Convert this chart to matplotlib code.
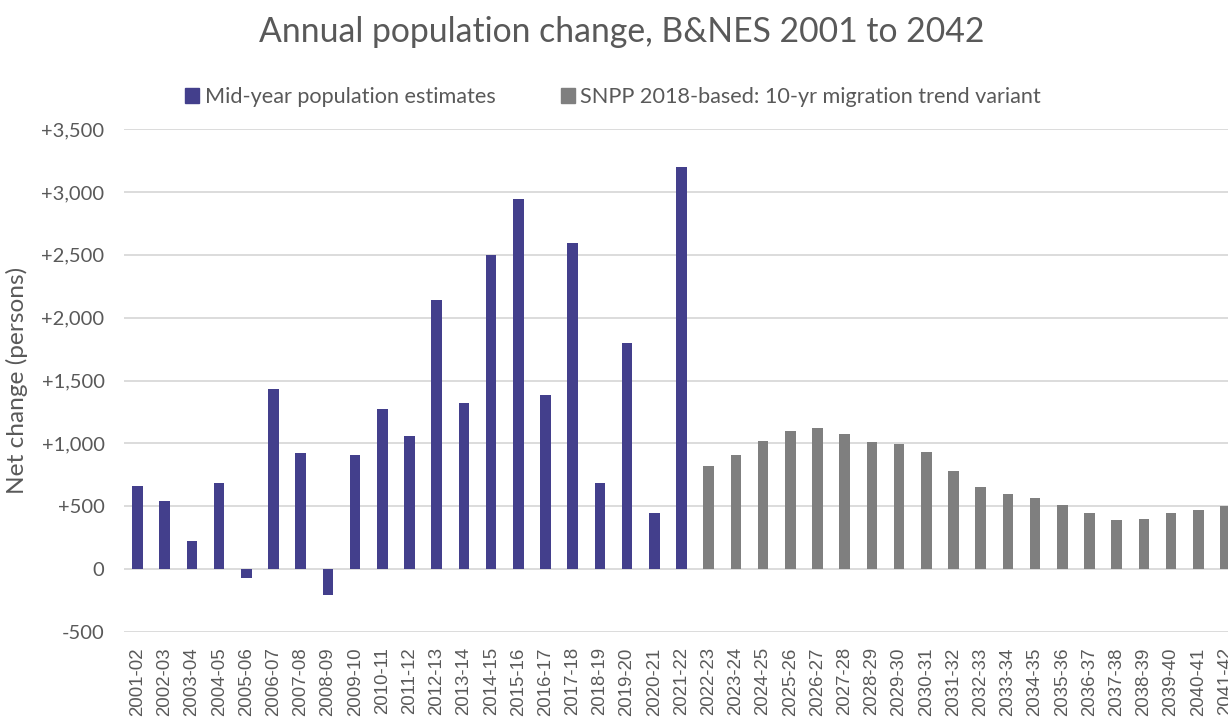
import matplotlib
matplotlib.use("Agg")
import matplotlib.pyplot as plt
from matplotlib.patches import Patch
from matplotlib.ticker import FuncFormatter, MultipleLocator

periods = [
    "2001-02", "2002-03", "2003-04", "2004-05", "2005-06", "2006-07", "2007-08",
    "2008-09", "2009-10", "2010-11", "2011-12", "2012-13", "2013-14", "2014-15",
    "2015-16", "2016-17", "2017-18", "2018-19", "2019-20", "2020-21", "2021-22",
    "2022-23", "2023-24", "2024-25", "2025-26", "2026-27", "2027-28", "2028-29",
    "2029-30", "2030-31", "2031-32", "2032-33", "2033-34", "2034-35", "2035-36",
    "2036-37", "2037-38", "2038-39", "2039-40", "2040-41", "2041-42",
]

# mid-year estimates, 2001-02 .. 2021-22
mye_change = [
    660, 540, 220, 687, -70, 1431, 926, -204, 905, 1270, 1058,
    2143, 1321, 2497, 2946, 1383, 2594, 685, 1796, 443, 3201,
]

# SNPP 2018-based 10-yr migration trend, 2022-23 .. 2041-42
snpp_change = [
    817, 905, 1016, 1101, 1122, 1071, 1013, 995, 931, 780,
    651, 598, 569, 508, 450, 389, 402, 444, 471, 505,
]

PURPLE = "#433F8C"
GREY = "#7F7F7F"
TEXT = "#595959"
GRID = "#D9D9D9"
FONT = "Lato"

fig = plt.figure(figsize=(12.28, 7.18), dpi=100)
ax = fig.add_axes([124 / 1228, 1 - 632 / 718, 1115 / 1228, 503 / 718])

n_mye = len(mye_change)
x_mye = list(range(n_mye))
x_snpp = list(range(n_mye, n_mye + len(snpp_change)))

ax.bar(x_mye, mye_change, width=0.39, color=PURPLE, zorder=3)
ax.bar(x_snpp, snpp_change, width=0.39, color=GREY, zorder=3)

ax.set_xlim(-0.5, len(periods) - 0.5)
ax.set_ylim(-500, 3500)
ax.yaxis.set_major_locator(MultipleLocator(500))


def fmt(v, _pos):
    v = int(round(v))
    if v > 0:
        return "+{:,}".format(v)
    if v < 0:
        return "-{:,}".format(-v)
    return "0"


ax.yaxis.set_major_formatter(FuncFormatter(fmt))
ax.grid(axis="y", color=GRID, linewidth=1.3, zorder=0)
for s in ax.spines.values():
    s.set_visible(False)

ax.set_xticks(range(len(periods)))
ax.set_xticklabels(periods, rotation=90, fontsize=13.4, family="Liberation Sans",
                   color=TEXT, va="top")
ax.tick_params(axis="x", length=0, pad=11)
ax.tick_params(axis="y", length=0, pad=14, labelsize=14.5, labelcolor=TEXT)
for lbl in ax.get_yticklabels():
    lbl.set_family(FONT)

ax.set_ylabel("Net change (persons)", fontsize=17.6, color=TEXT, family=FONT)
ax.yaxis.set_label_coords(-0.086, 0.5)

fig.text(622 / 1228, 1 - 32 / 718, "Annual population change, B&NES 2001 to 2042",
         ha="center", va="center", fontsize=24.3, color=TEXT, family=FONT)

handles = [Patch(color=PURPLE), Patch(color=GREY)]
labels = ["Mid-year population estimates",
          "SNPP 2018-based: 10-yr migration trend variant"]
fig.legend(handles, labels, ncol=2, loc="center", bbox_to_anchor=(613 / 1228, 1 - 97 / 718),
           frameon=False, prop={"family": FONT, "size": 15.6}, labelcolor=TEXT,
           handlelength=0.65, handleheight=0.65, handletextpad=0.25, columnspacing=3.0)

fig.savefig("out.png", dpi=100)
